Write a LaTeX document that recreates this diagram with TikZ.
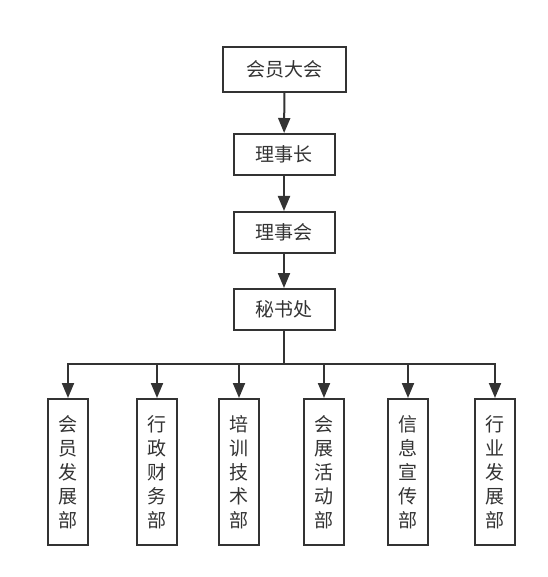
\documentclass[tikz,border=0pt]{standalone}
\usepackage{fontspec}
\setmainfont{Noto Sans CJK SC}
\usetikzlibrary{arrows.meta}
\definecolor{ink}{HTML}{333333}
\tikzset{
  box/.style={draw=ink, line width=2pt, text=ink, inner sep=0pt, font=\fontsize{19}{24}\selectfont},
  topbox/.style={box, minimum width=101pt, minimum height=41pt},
  vbox/.style={box, minimum width=40pt, minimum height=146pt, align=center},
  conn/.style={draw=ink, line width=2pt},
  arr/.style={conn, -{Triangle[length=15pt,width=12pt]}}
}
\begin{document}
\begin{tikzpicture}[x=1pt,y=-1pt]
\useasboundingbox (0,0) rectangle (547,577);
\node[topbox, minimum width=123pt, minimum height=45pt] (a) at (284.5,69.5) {会员大会};
\node[topbox] (b) at (284,154.5) {理事长};
\node[topbox] (c) at (284,232.5) {理事会};
\node[topbox] (d) at (284,309.5) {秘书处};
\draw[arr] (a) -- (b);
\draw[arr] (b) -- (c);
\draw[arr] (c) -- (d);
\node[vbox] (e1) at (68,472) {会\\员\\发\\展\\部};
\node[vbox] (e2) at (157,472) {行\\政\\财\\务\\部};
\node[vbox] (e3) at (239,472) {培\\训\\技\\术\\部};
\node[vbox] (e4) at (324,472) {会\\展\\活\\动\\部};
\node[vbox] (e5) at (408,472) {信\\息\\宣\\传\\部};
\node[vbox] (e6) at (495,472) {行\\业\\发\\展\\部};
\coordinate (bus) at (284,364);
\draw[conn] (d.south) -- (bus);
\draw[conn, line cap=rect] (e1.north |- bus) -- (e6.north |- bus);
\foreach \i in {1,...,6}{
  \draw[arr] (e\i.north |- bus) -- (e\i.north);
}
\end{tikzpicture}
\end{document}
